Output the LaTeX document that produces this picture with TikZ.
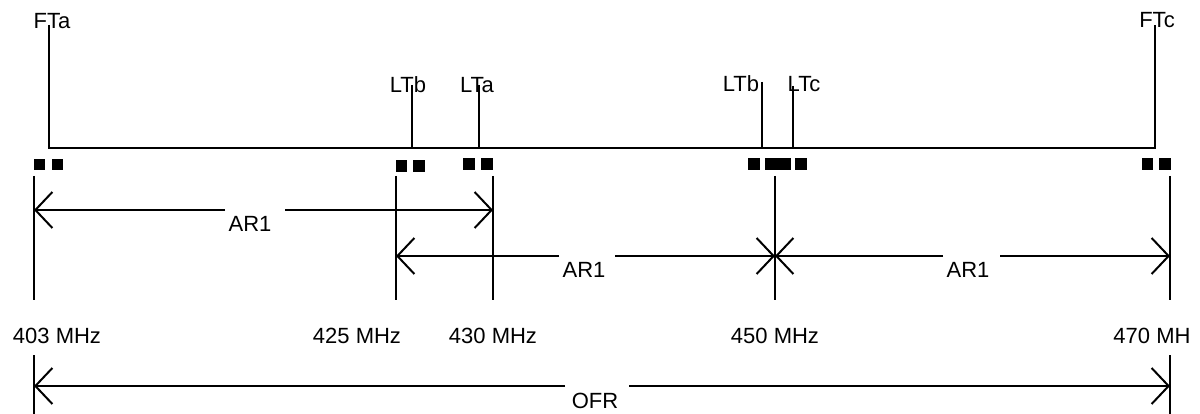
\documentclass[tikz,border=0pt]{standalone}
\usepackage{fontspec}
\setmainfont{Liberation Sans}
\usetikzlibrary{arrows.meta}
\begin{document}
\begin{tikzpicture}[x=1pt,y=-1pt,
  line width=2pt, line join=miter,
  lbl/.style={anchor=base, inner sep=0pt, font=\fontsize{22}{26}\selectfont},
  sq/.style={fill=black, draw=none},
  dimtip/.style={-{Straight Barb[length=17pt,width=36pt]}},
  tick/.style={draw}]
\useasboundingbox (0,0) rectangle (1200,414);

% top labels
\node[lbl] (FTa) at (52,29) {FTa};
\node[lbl] (FTc) at (1157,28) {FTc};
\node[lbl] (LTb1) at (408,93) {LTb};
\node[lbl] (LTa) at (477,93) {LTa};
\node[lbl] (LTb2) at (741,92) {LTb};
\node[lbl] (LTc) at (804,92) {LTc};

% top line structure
\coordinate (fta) at (49,25);
\coordinate (fta0) at (49,148);
\coordinate (ftc) at (1155,25);
\coordinate (ftc0) at (1155,148);
\draw (fta) -- (fta0) -- (ftc0) -- (ftc);
\coordinate (ltb1) at (412,85); \coordinate (ltb10) at (412,148);
\coordinate (lta) at (479,85);  \coordinate (lta0) at (479,148);
\coordinate (ltb2) at (762,82); \coordinate (ltb20) at (762,148);
\coordinate (ltc) at (793,86);  \coordinate (ltc0) at (793,148);
\draw (ltb1) -- (ltb10);
\draw (lta) -- (lta0);
\draw (ltb2) -- (ltb20);
\draw (ltc) -- (ltc0);

% squares
\fill[sq] (34,159) rectangle (45,170);
\fill[sq] (52,159) rectangle (63,170);
\fill[sq] (396,160) rectangle (407,172);
\fill[sq] (413,160) rectangle (425,172);
\fill[sq] (463,158) rectangle (475,170);
\fill[sq] (481,158) rectangle (493,170);
\fill[sq] (748,158) rectangle (760,170);
\fill[sq] (765,158) rectangle (791,170);
\fill[sq] (795,158) rectangle (807,170);
\fill[sq] (1142,158) rectangle (1153,170);
\fill[sq] (1159,158) rectangle (1171,170);

% extension ticks
\coordinate (t403a) at (34,176);  \coordinate (t403b) at (34,300);
\coordinate (t425a) at (396,176); \coordinate (t425b) at (396,300);
\coordinate (t430a) at (493,176); \coordinate (t430b) at (493,300);
\coordinate (t450a) at (775,176); \coordinate (t450b) at (775,300);
\coordinate (t470a) at (1170,176); \coordinate (t470b) at (1170,300);
\coordinate (b403a) at (34,355);  \coordinate (b403b) at (34,414);
\coordinate (b470a) at (1170,355); \coordinate (b470b) at (1170,414);
\draw (t403a) -- (t403b);
\draw (t425a) -- (t425b);
\draw (t430a) -- (t430b);
\draw (t450a) -- (t450b);
\draw (t470a) -- (t470b);
\draw (b403a) -- (b403b);
\draw (b470a) -- (b470b);

% frequency labels
\node[lbl] (f403) at (57,343) {403 MHz};
\node[lbl] (f425) at (357,343) {425 MHz};
\node[lbl] (f430) at (493,343) {430 MHz};
\node[lbl] (f450) at (775,343) {450 MHz};
\node[lbl] (f470) at (1152,343) {470 MH};

% AR1 row 1
\coordinate (r1l) at (34,210); \coordinate (r1r) at (493,210);
\coordinate (r1gl) at (225,210); \coordinate (r1gr) at (285,210);
\draw[dimtip] (r1gl) -- (r1l);
\draw[dimtip] (r1gr) -- (r1r);
\node[lbl] (ar1a) at (250,232) {AR1};

% AR1 row 2
\coordinate (r2l) at (396,256); \coordinate (r2m) at (775,256); \coordinate (r2r) at (1170,256);
\coordinate (r2gl) at (559,256); \coordinate (r2gr) at (615,256);
\coordinate (r3gl) at (943,256); \coordinate (r3gr) at (1000,256);
\draw[dimtip] (r2gl) -- (r2l);
\draw[dimtip] (r2gr) -- (r2m);
\draw[dimtip] (r3gl) -- (r2m);
\draw[dimtip] (r3gr) -- (r2r);
\node[lbl] (ar1b) at (584,277) {AR1};
\node[lbl] (ar1c) at (968,277) {AR1};

% OFR
\coordinate (ol) at (34,386); \coordinate (or) at (1170,386);
\coordinate (ogl) at (565,386); \coordinate (ogr) at (629,386);
\draw[dimtip] (ogl) -- (ol);
\draw[dimtip] (ogr) -- (or);
\node[lbl] (ofr) at (595,408) {OFR};
\end{tikzpicture}
\end{document}
